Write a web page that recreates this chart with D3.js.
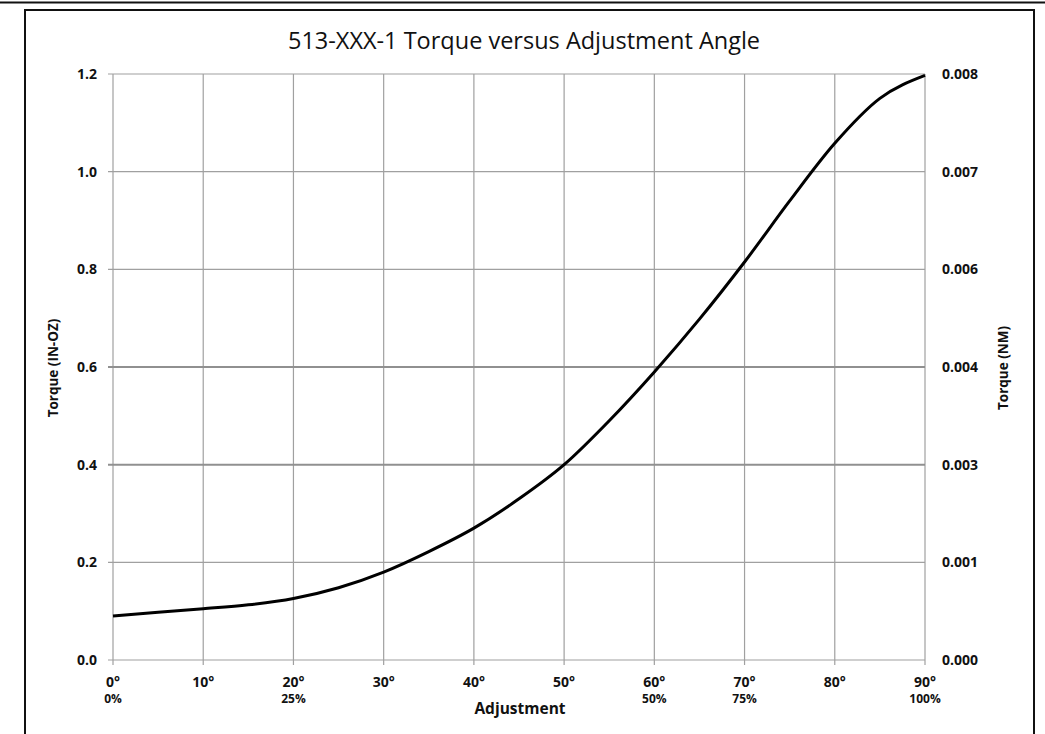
<!DOCTYPE html>
<html lang="en">
<head>
<meta charset="UTF-8">
<title>513-XXX-1 Torque versus Adjustment Angle</title>
<script src="https://d3js.org/d3.v7.min.js"></script>
<style>
    body {
    margin: 0;
    background-color: white;
    }
    text {
    font-family: "Open Sans", "Noto Sans", sans-serif;
    fill: #111;
    }
    .grid {
    stroke: #a0a0a0;
    stroke-width: 1.2px;
    }
    .tick-label {
    font-weight: bold;
    font-size: 14px;
    }
</style>
</head>
<body>
<svg id="chart" width="1045" height="734"></svg>
<script>
    const width = 1045;
    const height = 734;

    // data
    const angles = [0, 5, 10, 15, 20, 25, 30, 35, 40, 45, 50, 55, 60, 65, 70, 75, 80, 85, 90];
    const torque = [0.090, 0.098, 0.105, 0.113, 0.126, 0.148, 0.180, 0.222, 0.270, 0.330, 0.400,
                    0.490, 0.590, 0.698, 0.815, 0.940, 1.058, 1.150, 1.197];
    const xTicks = [0, 10, 20, 30, 40, 50, 60, 70, 80, 90];
    const yTicks = [0, 0.2, 0.4, 0.6, 0.8, 1.0, 1.2];
    const nmLabels = ["0.000", "0.001", "0.003", "0.004", "0.006", "0.007", "0.008"];
    const pctTicks = [0, 20, 60, 70, 90];
    const pctLabels = ["0%", "25%", "50%", "75%", "100%"];

    const plot = {left: 113, right: 925, top: 74, bottom: 660};

    const svg = d3.select("#chart");

    const x = d3.scaleLinear().domain([0, 90]).range([plot.left, plot.right]);
    const y = d3.scaleLinear().domain([0, 1.2]).range([plot.bottom, plot.top]);

    // frame lines
    svg.append("line")
    .attr("x1", 0).attr("x2", width)
    .attr("y1", 2.5).attr("y2", 2.5)
    .attr("stroke", "#111").attr("stroke-width", 2);

    svg.append("path")
    .attr("d", `M25,${height} V10 H1034 V${height}`)
    .attr("fill", "none")
    .attr("stroke", "#111")
    .attr("stroke-width", 2);

    // grid
    svg.append("g")
    .selectAll("line")
    .data(xTicks)
    .join("line")
    .attr("class", "grid")
    .attr("x1", d => x(d)).attr("x2", d => x(d))
    .attr("y1", plot.top).attr("y2", plot.bottom + 5);

    svg.append("g")
    .selectAll("line")
    .data(yTicks)
    .join("line")
    .attr("class", "grid")
    .attr("x1", plot.left - 5).attr("x2", plot.right)
    .attr("y1", d => y(d)).attr("y2", d => y(d))
    .style("stroke-width", d => (d === 0.4 || d === 0.6) ? 2 : 1.2)
    .style("stroke", d => (d === 0.4 || d === 0.6) ? "#909090" : null);

    // left labels
    svg.append("g")
    .selectAll("text")
    .data(yTicks)
    .join("text")
    .attr("class", "tick-label")
    .attr("x", 97)
    .attr("y", d => y(d) + 5)
    .attr("text-anchor", "end")
    .text(d => d.toFixed(1));

    // right labels
    svg.append("g")
    .selectAll("text")
    .data(yTicks)
    .join("text")
    .attr("class", "tick-label")
    .attr("x", 942)
    .attr("y", d => y(d) + 5)
    .attr("text-anchor", "start")
    .text((d, i) => nmLabels[i]);

    // x labels
    svg.append("g")
    .selectAll("text")
    .data(xTicks)
    .join("text")
    .attr("class", "tick-label")
    .attr("x", d => x(d))
    .attr("y", 687)
    .attr("text-anchor", "middle")
    .text(d => d + "°");

    svg.append("g")
    .selectAll("text")
    .data(pctTicks)
    .join("text")
    .attr("x", d => x(d))
    .attr("y", 703)
    .attr("text-anchor", "middle")
    .style("font-size", "12px")
    .style("font-weight", "bold")
    .text((d, i) => pctLabels[i]);

    // axis titles
    svg.append("text")
    .attr("x", 520)
    .attr("y", 714)
    .attr("text-anchor", "middle")
    .style("font-size", "15.5px")
    .style("font-weight", "bold")
    .text("Adjustment");

    svg.append("text")
    .attr("transform", "translate(58,368) rotate(-90)")
    .attr("text-anchor", "middle")
    .style("font-size", "13.5px")
    .style("font-weight", "bold")
    .text("Torque (IN-OZ)");

    svg.append("text")
    .attr("transform", "translate(1008,368) rotate(-90)")
    .attr("text-anchor", "middle")
    .style("font-size", "13.5px")
    .style("font-weight", "bold")
    .text("Torque (NM)");

    // title
    svg.append("text")
    .attr("x", 524)
    .attr("y", 49)
    .attr("text-anchor", "middle")
    .style("font-size", "23.5px")
    .text("513-XXX-1 Torque versus Adjustment Angle");

    // curve
    const line = d3.line()
    .x((d, i) => x(angles[i]))
    .y(d => y(d))
    .curve(d3.curveMonotoneX);

    svg.append("path")
    .datum(torque)
    .attr("d", line)
    .attr("fill", "none")
    .attr("stroke", "#000")
    .attr("stroke-width", 3);
</script>
</body>
</html>
